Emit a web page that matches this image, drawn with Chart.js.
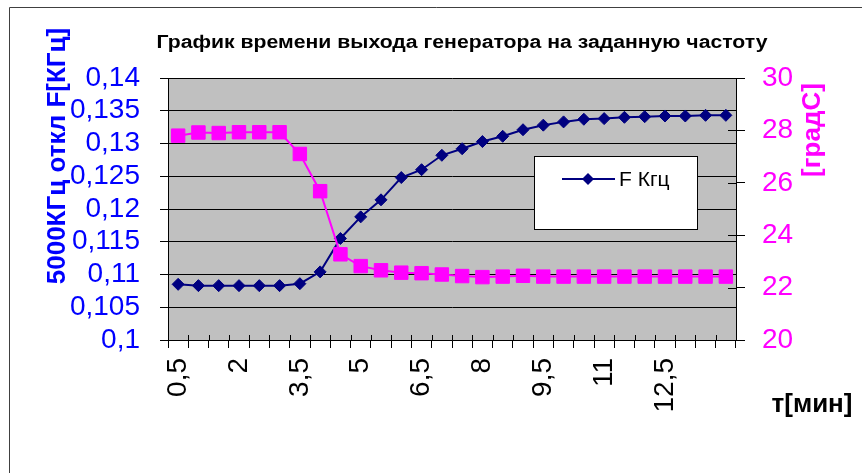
<!DOCTYPE html>
<html>
<head>
<meta charset="utf-8">
<script src="https://cdn.jsdelivr.net/npm/chart.js@4.4.1/dist/chart.umd.min.js"></script>
<style>
  html, body { margin: 0; padding: 0; background: #ffffff; }
  #wrap { width: 862px; height: 473px; position: relative; }
</style>
</head>
<body>
<div id="wrap"><canvas id="chart" width="862" height="473"></canvas></div>
<script>
// Time after switch-on, minutes
const times = [0.5, 1, 1.5, 2, 2.5, 3, 3.5, 4, 4.5, 5, 5.5, 6, 6.5, 7,
               7.5, 8, 8.5, 9, 9.5, 10, 10.5, 11, 11.5, 12, 12.5, 13, 13.5, 14];

// Frequency deviation from 5000 kHz, kHz (left axis)
const freqDev = [0.1085, 0.1083, 0.1083, 0.1083, 0.1083, 0.1083, 0.1086, 0.1104,
                 0.1155, 0.1188, 0.1214, 0.1248, 0.1260, 0.1282, 0.1292, 0.1303,
                 0.1311, 0.1321, 0.1328, 0.1333, 0.1337, 0.1338, 0.1340, 0.1341,
                 0.1342, 0.1342, 0.1343, 0.1343];

// Temperature, degrees C (right axis)
const temperature = [27.80, 27.92, 27.90, 27.93, 27.93, 27.93, 27.10, 25.68,
                     23.27, 22.82, 22.66, 22.57, 22.55, 22.50, 22.44, 22.40,
                     22.42, 22.45, 22.42, 22.42, 22.42, 22.42, 22.42, 22.42,
                     22.42, 22.42, 22.42, 22.42];

// Axis ticks
const freqTicks = [0.1, 0.105, 0.11, 0.115, 0.12, 0.125, 0.13, 0.135, 0.14];
const tempTicks = [20, 22, 24, 26, 28, 30];
const timeLabelsShown = ['0,5', '2', '3,5', '5', '6,5', '8', '9,5', '11', '12,5'];

const chartTitle = 'График времени выхода генератора на заданную частоту';
const leftTitle = '5000КГц откл F[КГц]';
const rightTitle = '[градС]';
const xTitle = 'т[мин]';
const seriesName = 'F Кгц';

const FONT = '"Liberation Sans", Arial, sans-serif';
const NAVY = '#000080';
const MAGENTA = '#FF00FF';

const fmt = v => String(parseFloat(Number(v).toFixed(4))).replace('.', ',');
const timeLabels = times.map(fmt);

// Grey plot background, cross tick marks, titles, legend and frame
const decor = {
  id: 'decor',
  beforeDraw(chart) {
    const { ctx, chartArea: a } = chart;
    ctx.save();
    ctx.fillStyle = '#C0C0C0';
    ctx.fillRect(a.left, a.top, a.right - a.left, a.bottom - a.top);
    ctx.restore();
  },
  beforeDatasetsDraw(chart) {
    const { ctx, chartArea: a, scales } = chart;
    ctx.save();
    ctx.strokeStyle = '#000';
    ctx.lineWidth = 1;
    ctx.beginPath();
    // inner halves of category tick marks
    const xs = scales.x;
    for (let i = 0; i <= times.length; i++) {
      const px = Math.round(xs.left + (xs.right - xs.left) * i / times.length) + 0.5;
      ctx.moveTo(px, a.bottom);
      ctx.lineTo(px, a.bottom - 5);
    }
    // inner halves of right axis tick marks
    const ys = scales.y1;
    tempTicks.forEach(t => {
      const py = Math.round(ys.getPixelForValue(t)) + 0.5;
      ctx.moveTo(a.right, py);
      ctx.lineTo(a.right - 8, py);
    });
    ctx.stroke();
    ctx.restore();
  },
  afterDraw(chart) {
    const { ctx } = chart;
    ctx.save();
    // outer frame
    ctx.strokeStyle = '#404040';
    ctx.lineWidth = 1;
    ctx.beginPath();
    ctx.moveTo(9.5, 480);
    ctx.lineTo(9.5, 7.5);
    ctx.lineTo(870, 7.5);
    ctx.stroke();

    // chart title, fitted to its box width
    ctx.fillStyle = '#000';
    ctx.font = 'bold 18px ' + FONT;
    ctx.textAlign = 'center';
    ctx.textBaseline = 'middle';
    const w = ctx.measureText(chartTitle).width;
    const sx = 611 / w;
    ctx.save();
    ctx.translate(462, 43);
    ctx.scale(sx, 1);
    ctx.fillText(chartTitle, 0, 0);
    ctx.restore();

    // left axis title
    ctx.save();
    ctx.fillStyle = '#0000FF';
    ctx.font = 'bold 26px ' + FONT;
    ctx.translate(58, 156);
    ctx.rotate(-Math.PI / 2);
    ctx.fillText(leftTitle, 0, 0);
    ctx.restore();

    // right axis title
    ctx.save();
    ctx.fillStyle = MAGENTA;
    ctx.font = 'bold 26px ' + FONT;
    ctx.translate(813, 130);
    ctx.rotate(-Math.PI / 2);
    ctx.fillText(rightTitle, 0, 0);
    ctx.restore();

    // x axis title
    ctx.fillStyle = '#000';
    ctx.font = 'bold 26px ' + FONT;
    ctx.fillText(xTitle, 812, 405);

    // legend box
    const bx = 534.5, by = 156.5, bw = 163, bh = 73;
    ctx.fillStyle = '#fff';
    ctx.fillRect(bx, by, bw, bh);
    ctx.strokeStyle = '#000';
    ctx.strokeRect(bx, by, bw, bh);
    ctx.strokeStyle = NAVY;
    ctx.lineWidth = 2;
    ctx.beginPath();
    ctx.moveTo(562, 179);
    ctx.lineTo(615, 179);
    ctx.stroke();
    ctx.fillStyle = NAVY;
    ctx.beginPath();
    ctx.moveTo(588, 173);
    ctx.lineTo(594, 179);
    ctx.lineTo(588, 185);
    ctx.lineTo(582, 179);
    ctx.closePath();
    ctx.fill();
    ctx.fillStyle = '#000';
    ctx.font = '21px ' + FONT;
    ctx.textAlign = 'left';
    ctx.fillText(seriesName, 619, 180);
    ctx.restore();
  }
};

new Chart(document.getElementById('chart'), {
  type: 'line',
  data: {
    labels: timeLabels,
    datasets: [
      {
        label: 'T',
        data: temperature,
        yAxisID: 'y1',
        borderColor: MAGENTA,
        backgroundColor: MAGENTA,
        borderWidth: 2,
        pointStyle: 'rect',
        pointRadius: 9.5,
        pointBorderWidth: 1,
        pointBackgroundColor: MAGENTA,
        pointBorderColor: MAGENTA,
        tension: 0,
        order: 0
      },
      {
        label: seriesName,
        data: freqDev,
        yAxisID: 'y',
        borderColor: NAVY,
        backgroundColor: NAVY,
        borderWidth: 2,
        pointStyle: 'rectRot',
        pointRadius: 6,
        pointBorderWidth: 1,
        pointBackgroundColor: NAVY,
        pointBorderColor: NAVY,
        tension: 0,
        order: 1
      }
    ]
  },
  options: {
    responsive: false,
    animation: false,
    devicePixelRatio: 1,
    layout: { padding: { top: 78, left: 0, right: 0, bottom: 0 } },
    plugins: {
      legend: { display: false },
      title: { display: false },
      tooltip: { enabled: false }
    },
    scales: {
      x: {
        type: 'category',
        offset: true,
        grid: {
          offset: true,
          drawOnChartArea: false,
          drawTicks: true,
          tickLength: 8,
          color: '#000',
          tickColor: '#000'
        },
        border: { color: '#000', width: 1 },
        ticks: {
          autoSkip: false,
          maxRotation: 90,
          minRotation: 90,
          padding: 10,
          color: '#000',
          font: { family: FONT, size: 28 },
          callback(value, index) {
            const lab = timeLabels[index];
            return timeLabelsShown.includes(lab) ? lab : '';
          }
        },
        afterFit(scale) { scale.height = 133; }
      },
      y: {
        type: 'linear',
        position: 'left',
        min: 0.1,
        max: 0.14,
        afterBuildTicks(scale) { scale.ticks = freqTicks.map(v => ({ value: v })); },
        grid: {
          color: '#000',
          tickColor: '#000',
          tickLength: 8,
          lineWidth: 1
        },
        border: { color: '#000', width: 1 },
        ticks: {
          autoSkip: false,
          padding: 20,
          color: '#0000FF',
          font: { family: FONT, size: 28 },
          callback: v => fmt(v)
        },
        afterFit(scale) { scale.width = 168; }
      },
      y1: {
        type: 'linear',
        position: 'right',
        min: 20,
        max: 30,
        afterBuildTicks(scale) { scale.ticks = tempTicks.map(v => ({ value: v })); },
        grid: {
          drawOnChartArea: false,
          color: '#000',
          tickColor: '#000',
          tickLength: 9
        },
        border: { color: '#000', width: 1 },
        ticks: {
          autoSkip: false,
          padding: 17,
          color: MAGENTA,
          font: { family: FONT, size: 28 },
          callback: v => fmt(v)
        },
        afterFit(scale) { scale.width = 126; }
      }
    }
  },
  plugins: [decor]
});
</script>
</body>
</html>
